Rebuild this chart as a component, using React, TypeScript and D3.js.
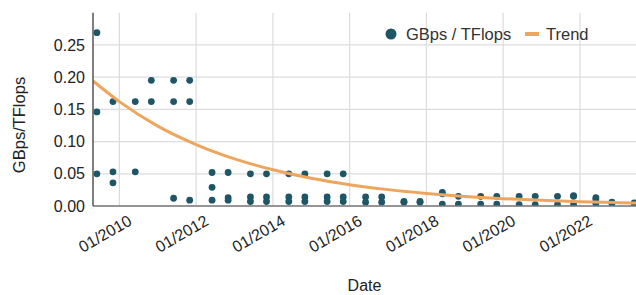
import * as d3 from 'd3'

const releaseDates = [
  '2009-06-01', '2009-11-01', '2010-06-01', '2010-11-01', '2011-06-01', '2011-11-01',
  '2012-06-01', '2012-11-01', '2013-06-01', '2013-11-01', '2014-06-01', '2014-11-01',
  '2015-06-01', '2015-11-01', '2016-06-01', '2016-11-01', '2017-06-01', '2017-11-01',
  '2018-06-01', '2018-11-01', '2019-06-01', '2019-11-01', '2020-06-01', '2020-11-01',
  '2021-06-01', '2021-11-01', '2022-06-01', '2022-11-01', '2023-06-01',
]

// GBps / TFlops readings for each release date
const ratios = [
  [0.269, 0.146, 0.05],
  [0.162, 0.053, 0.036],
  [0.162, 0.053],
  [0.195, 0.162],
  [0.195, 0.162, 0.012],
  [0.195, 0.162, 0.009],
  [0.052, 0.029, 0.009],
  [0.052, 0.013, 0.009],
  [0.05, 0.014, 0.007],
  [0.05, 0.014, 0.007],
  [0.05, 0.014, 0.007],
  [0.05, 0.014, 0.007],
  [0.05, 0.014, 0.007],
  [0.05, 0.014, 0.007],
  [0.014, 0.006],
  [0.014, 0.006],
  [0.007, 0.006],
  [0.007, 0.006],
  [0.021, 0.019, 0.003],
  [0.015, 0.003],
  [0.015, 0.003],
  [0.015, 0.003],
  [0.015, 0.002],
  [0.015, 0.002],
  [0.015, 0.002],
  [0.016, 0.015, 0.002],
  [0.013, 0.01, 0.004],
  [0.006, 0.004],
  [0.005, 0.004],
]

const trendDates = [
  '2009-04-25', '2010-01-01', '2011-01-01', '2012-01-01', '2013-01-01', '2014-01-01',
  '2015-01-01', '2016-01-01', '2017-01-01', '2018-01-01', '2019-01-01', '2020-01-01',
  '2021-01-01', '2022-01-01', '2023-01-01', '2023-06-18',
]
const trendValues = [
  0.194, 0.162, 0.124, 0.0954, 0.0732, 0.0562, 0.0431, 0.0331,
  0.0254, 0.0195, 0.0149, 0.0114, 0.0088, 0.0067, 0.0052, 0.0046,
]

const xDomain = ['2009-04-25', '2023-06-18']
const xTicks = ['2010-01-01', '2012-01-01', '2014-01-01', '2016-01-01', '2018-01-01', '2020-01-01', '2022-01-01']
const yTicks = [0, 0.05, 0.1, 0.15, 0.2, 0.25]

const W = 636
const H = 295
const margin = { top: 12.7, right: 0, bottom: 89, left: 93 }
const DOT = '#1e5567'
const TREND = '#eea65e'
const FONT = 'Liberation Sans, Arial, sans-serif'

export default function App() {
  const innerW = W - margin.left - margin.right
  const innerH = H - margin.top - margin.bottom

  const x = d3.scaleUtc().domain(xDomain.map((d) => d3.isoParse(d))).range([0, innerW])
  const y = d3.scaleLinear().domain([0, 0.3]).range([innerH, 0])

  const points = releaseDates.flatMap((d, i) =>
    ratios[i].map((v) => ({ date: d3.isoParse(d), value: v }))
  )

  const trendPath = d3
    .line()
    .x((d) => x(d3.isoParse(d[0])))
    .y((d) => y(d[1]))
    .curve(d3.curveMonotoneX)(trendDates.map((d, i) => [d, trendValues[i]]))

  const fmt = d3.utcFormat('%m/%Y')

  return (
    <svg width={W} height={H} style={{ position: 'absolute', left: 0, top: 0 }} fontFamily={FONT}>
      <defs>
        <clipPath id="plot">
          <rect x={0} y={0} width={innerW} height={innerH} />
        </clipPath>
      </defs>
      <g transform={`translate(${margin.left},${margin.top})`}>
        {yTicks.map((t) => (
          <line key={'gy' + t} x1={0} x2={innerW} y1={y(t)} y2={y(t)} stroke="#dcdcdc" strokeWidth={1.2} />
        ))}
        {xTicks.map((t) => (
          <line key={'gx' + t} x1={x(d3.isoParse(t))} x2={x(d3.isoParse(t))} y1={0} y2={innerH} stroke="#dcdcdc" strokeWidth={1.2} />
        ))}

        <g clipPath="url(#plot)">
          {points.map((p, i) => (
            <circle key={i} cx={x(p.date)} cy={y(p.value)} r={3.4} fill={DOT} />
          ))}
          <path d={trendPath} fill="none" stroke={TREND} strokeWidth={3} />
        </g>

        <line x1={0} x2={innerW} y1={innerH} y2={innerH} stroke="#777" strokeWidth={1.3} />
        <line x1={0} x2={0} y1={0} y2={innerH} stroke="#555" strokeWidth={1.5} />

        {yTicks.map((t) => (
          <text key={'ty' + t} x={-8} y={y(t)} dy="0.35em" textAnchor="end" fontSize={16} fill="#222">
            {t.toFixed(2)}
          </text>
        ))}
        {xTicks.map((t) => {
          const px = x(d3.isoParse(t)) + 13.5
          return (
            <text key={'tx' + t} transform={`translate(${px},${innerH + 18}) rotate(-30)`} textAnchor="end" fontSize={16} fill="#222">
              {fmt(d3.isoParse(t))}
            </text>
          )
        })}
      </g>

      <text transform={`translate(25,125) rotate(-90)`} textAnchor="middle" fontSize={16.5} fill="#222">
        GBps/TFlops
      </text>
      <text x={margin.left + innerW / 2} y={291} textAnchor="middle" fontSize={16} fill="#222">
        Date
      </text>

      <g fontSize={16.5} fill="#333">
        <circle cx={391} cy={34} r={5.5} fill={DOT} />
        <text x={406} y={34} dy="0.35em">GBps / TFlops</text>
        <line x1={525} x2={539} y1={34} y2={34} stroke={TREND} strokeWidth={4} />
        <text x={546} y={34} dy="0.35em">Trend</text>
      </g>
    </svg>
  )
}
